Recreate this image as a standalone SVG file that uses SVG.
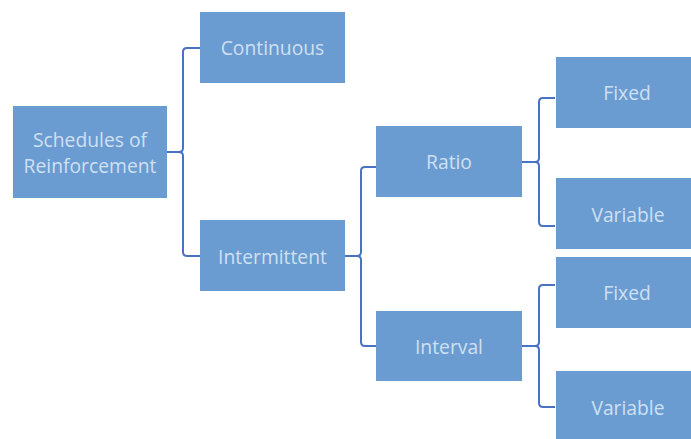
<svg xmlns="http://www.w3.org/2000/svg" width="691" height="439" viewBox="0 0 691 439">
<style>
.box{fill:#6a9bd1;}
.lbl{font-family:"Open Sans","Liberation Sans",sans-serif;font-size:19.3px;fill:#d0e0f3;text-anchor:middle;dominant-baseline:central;}
.br{fill:none;stroke:#4a72c2;stroke-width:2;stroke-linejoin:round;}
</style>
<rect width="691" height="439" fill="#ffffff"/>
<g id="connectors">
<path class="br" d="M200 48 L187 48 Q183 48 183 52 L183 148 Q183 152 179 152 L167 152 M179 152 Q183 152 183 156 L183 252 Q183 256 187 256 L200 256"/>
<path class="br" d="M376 167 L365 167 Q361 167 361 171 L361 252 Q361 256 357 256 L345 256 M357 256 Q361 256 361 260 L361 342 Q361 346 365 346 L376 346"/>
<path class="br" d="M555 98 L543 98 Q539 98 539 102 L539 158 Q539 162 535 162 L522 162 M535 162 Q539 162 539 166 L539 222 Q539 226 543 226 L555 226"/>
<path class="br" d="M555 285 L543 285 Q539 285 539 289 L539 342 Q539 346 535 346 L522 346 M535 346 Q539 346 539 350 L539 403 Q539 407 543 407 L555 407"/>
</g>
<g id="root"><rect class="box" x="13" y="106" width="154" height="92"/><text class="lbl" x="90" y="139">Schedules of</text><text class="lbl" x="90" y="165">Reinforcement</text></g>
<g id="continuous"><rect class="box" x="200" y="12" width="145" height="71"/><text class="lbl" x="272.5" y="47.5">Continuous</text></g>
<g id="intermittent"><rect class="box" x="200" y="220" width="145" height="71"/><text class="lbl" x="272.5" y="256.5">Intermittent</text></g>
<g id="ratio"><rect class="box" x="376" y="126" width="146" height="71"/><text class="lbl" x="449" y="161.5">Ratio</text></g>
<g id="interval"><rect class="box" x="376" y="311" width="146" height="70"/><text class="lbl" x="449" y="346">Interval</text></g>
<g id="fixed1"><rect class="box" x="556" y="57" width="135" height="71"/><text class="lbl" x="627" y="92">Fixed</text></g>
<g id="variable1"><rect class="box" x="556" y="178" width="135" height="71"/><text class="lbl" x="628" y="214">Variable</text></g>
<g id="fixed2"><rect class="box" x="556" y="257" width="135" height="71"/><text class="lbl" x="627" y="292">Fixed</text></g>
<g id="variable2"><rect class="box" x="556" y="371" width="135" height="68"/><text class="lbl" x="628" y="407">Variable</text></g>
</svg>
